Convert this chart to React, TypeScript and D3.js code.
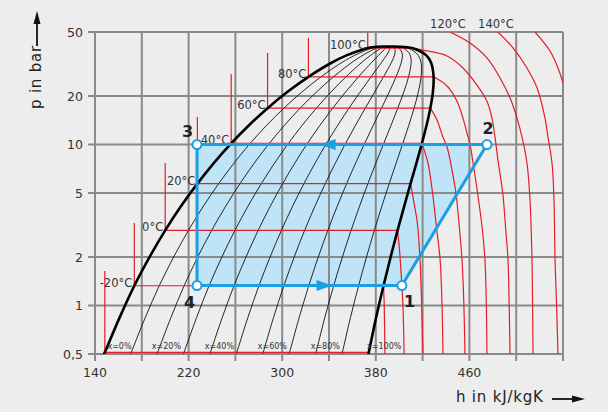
import React from "react";
import * as d3 from "d3";

// saturation table (bar, kJ/kg)
const satT = [-41, -40, -30, -20, -10, 0, 10, 20, 30, 40, 50, 60, 70, 80, 90, 95, 98, 100, 101, 101.06];
const satP = [0.49, 0.512, 0.844, 1.327, 2.006, 2.928, 4.146, 5.717, 7.702, 10.17, 13.18, 16.82, 21.17, 26.33, 32.44, 35.9, 38.1, 39.72, 40.5, 40.59];
const satHf = [147.2, 148.4, 161.1, 173.6, 186.7, 200.0, 213.6, 227.5, 241.7, 256.4, 271.6, 287.5, 304.3, 322.4, 342.9, 355.5, 365.0, 373.1, 381.0, 391.0];
const satHg = [373.4, 374.0, 380.3, 386.6, 392.7, 398.6, 404.3, 409.7, 414.8, 419.4, 423.4, 426.6, 428.8, 429.4, 427.1, 423.0, 417.5, 411.0, 401.0, 391.0];

const qualities = [0, 0.1, 0.2, 0.3, 0.4, 0.5, 0.6, 0.7, 0.8, 0.9, 1];
const qualityLabels = [0, 0.2, 0.4, 0.6, 0.8, 1];

// isotherms with a liquid stem and a two-phase plateau
const isoT = [-40, -20, 0, 20, 40, 60, 80, 100];
const isoLabels = ["", "-20°C", "0°C", "20°C", "40°C", "60°C", "80°C", "100°C"];
const isoStemTop = [1.64, 3.26, 7.68, 14.8, 27.4, 37, 45.9, 49.7];

// superheated branches [h, p]
const sh20m: [number, number][] = [[386.6, 1.327], [387.2, 1], [387.8, 0.5]];
const sh0: [number, number][] = [[398.6, 2.928], [400.3, 2.2], [402.3, 1.33], [403.2, 1], [404.2, 0.5]];
const sh20: [number, number][] = [[409.7, 5.717], [413, 4.2], [415.5, 3.26], [417.8, 1.92], [419.2, 1], [420.3, 0.5]];
const sh40: [number, number][] = [[419.4, 10.17], [424.6, 7.68], [428.5, 5], [432, 3], [435, 1.92], [436.6, 1], [437.4, 0.5]];
const sh60: [number, number][] = [[426.6, 16.82], [432.3, 14.2], [437.4, 11.1], [440.9, 9.66], [445.1, 6.95], [448.5, 5], [451.5, 3], [453.7, 1.92], [455.3, 1], [456.2, 0.5]];
const sh80: [number, number][] = [[429.4, 26.33], [440.9, 23.1], [449.4, 18.6], [454.5, 14.6], [457.9, 11.8], [460.5, 10.07], [463.1, 7.68], [467, 5], [471, 3], [473.3, 1.92], [474.5, 1], [475, 0.5]];
const sh100: [number, number][] = [[411, 39.72], [420.3, 38.6], [440.9, 35.5], [454.5, 29.9], [466.5, 23.4], [475, 18.6], [479.3, 14.6], [481.9, 11.1], [484.4, 8], [488.5, 5], [491, 3], [493, 1.92], [494, 1], [494.7, 0.5]];
const sh120: [number, number][] = [[443.4, 50], [460.5, 42.7], [475, 34.5], [486.2, 25.9], [494.7, 19.5], [500.7, 14.6], [505, 11.1], [509.2, 7.68], [511.8, 4.52], [513.5, 1.92], [514, 1], [514.4, 0.5]];
const sh140: [number, number][] = [[484.4, 50], [497.3, 39.8], [509.2, 29.9], [517.8, 22.5], [524.6, 14.6], [527.2, 11.1], [530.6, 7.68], [532.3, 4.52], [533.2, 1.92], [534.5, 1], [535.7, 0.5]];
const sh160: [number, number][] = [[516.1, 50], [528.9, 38.1], [535.7, 29.9], [540, 24.1], [543.4, 18.9]];
const superheat = [sh20m, sh0, sh20, sh40, sh60, sh80, sh100, sh120, sh140, sh160];
const topLabels = ["120°C", "140°C"];
const topLabelH = [443.4, 484.4];

// refrigeration cycle: points 1..4
const cycleH = [402.3, 475, 227.2, 227.2];
const cycleP = [1.33, 10, 10, 1.33];
const cycleNames = ["1", "2", "3", "4"];
const fillLimitH = 460;
const arrowTopH = 332;
const arrowBottomH = 343;

const yTicks = [0.5, 1, 2, 5, 10, 20, 50];
const yTickLabels = ["0,5", "1", "2", "5", "10", "20", "50"];
const xGrid = [140, 180, 220, 260, 300, 340, 380, 420, 460, 500, 540];
const xTickLabels = [140, 220, 300, 380, 460];

const W = 608;
const H = 412;
const left = 95, right = 563, top = 32, bottom = 354;

const RED = "#e41e26";
const BLUE = "#1a9fe0";
const GRID = "#8a8a8a";
const TXT = "#333";
const FONT = "'DejaVu Sans', sans-serif";

export default function App() {
  const x = d3.scaleLinear().domain([140, 540]).range([left, right]);
  const y = d3.scaleLog().domain([0.5, 50]).range([bottom, top]);

  const smooth = d3
    .line<[number, number]>()
    .x((d) => x(d[0]))
    .y((d) => y(d[1]))
    .curve(d3.curveCatmullRom.alpha(0.5));
  const straight = d3
    .line<[number, number]>()
    .x((d) => x(d[0]))
    .y((d) => y(d[1]));

  const qualityPts = (q: number) =>
    satP.map((p, i) => [satHf[i] + q * (satHg[i] - satHf[i]), p] as [number, number]);

  const liquid = qualityPts(0);
  const vapour = qualityPts(1);
  const dome = liquid.concat(vapour.slice(0, -1).reverse());

  const pts = cycleH.map((h, i) => [x(h), y(cycleP[i])]);
  const poly = pts.map((p) => p.join(",")).join(" ");

  const ty = y(cycleP[1]);
  const tx = x(arrowTopH);
  const by = y(cycleP[0]);
  const bx = x(arrowBottomH);

  return (
    <svg width={W} height={H} style={{ position: "absolute", left: 0, top: 0, background: "#ededed" }}>
      <defs>
        <clipPath id="plot">
          <rect x={left} y={top} width={right - left} height={bottom - top} />
        </clipPath>
        <clipPath id="fillclip">
          <rect x={left} y={top} width={x(fillLimitH) - left} height={bottom - top} />
        </clipPath>
      </defs>
      <rect width={W} height={H} fill="#ededed" />

      {/* shaded cycle area */}
      <polygon points={poly} fill="#bfe4f8" clipPath="url(#fillclip)" />

      {/* grid */}
      {xGrid.map((v) => (
        <line key={"gx" + v} x1={x(v)} x2={x(v)} y1={top} y2={bottom + 7} stroke={GRID} strokeWidth={2} />
      ))}
      {yTicks.map((v) => (
        <line key={"gy" + v} x1={left - 7} x2={right} y1={y(v)} y2={y(v)} stroke={GRID} strokeWidth={2} />
      ))}
      {yTicks.map((v, i) => (
        <text key={"ty" + v} x={83} y={y(v) + 4.5} textAnchor="end" fontFamily={FONT} fontSize={12.5} fill={TXT}>
          {yTickLabels[i]}
        </text>
      ))}
      {xTickLabels.map((v) => (
        <text key={"tx" + v} x={x(v)} y={377} textAnchor="middle" fontFamily={FONT} fontSize={12.5} fill={TXT}>
          {v}
        </text>
      ))}

      <g clipPath="url(#plot)">
        {/* quality lines */}
        {qualities.slice(1, -1).map((q) => (
          <path key={"q" + q} d={smooth(qualityPts(q)) || ""} fill="none" stroke="#111" strokeWidth={0.9} />
        ))}

        {/* isotherms */}
        {isoT.map((T, i) => {
          const k = satT.indexOf(T);
          return (
            <path
              key={"iso" + T}
              d={straight([[satHf[k], isoStemTop[i]], [satHf[k], satP[k]], [satHg[k], satP[k]]]) || ""}
              fill="none"
              stroke={RED}
              strokeWidth={1.2}
            />
          );
        })}
        {superheat.map((s, i) => (
          <path key={"sh" + i} d={smooth(s) || ""} fill="none" stroke={RED} strokeWidth={1.2} />
        ))}

        {/* saturation dome */}
        <path d={smooth(dome) || ""} fill="none" stroke="#000" strokeWidth={2.6} />
      </g>

      {/* isotherm labels */}
      {isoT.map((T, i) => {
        const k = satT.indexOf(T);
        return isoLabels[i] ? (
          <text key={"il" + T} x={x(satHf[k]) - 2} y={y(satP[k]) + 1} textAnchor="end" fontFamily={FONT} fontSize={11.5} fill={TXT}>
            {isoLabels[i]}
          </text>
        ) : null;
      })}
      {topLabels.map((t, i) => (
        <text key={t} x={x(topLabelH[i]) - 2} y={28} textAnchor="middle" fontFamily={FONT} fontSize={11.5} fill={TXT}>
          {t}
        </text>
      ))}

      {/* quality labels */}
      {qualityLabels.map((q) => {
        const h = satHf[0] + q * (satHg[0] - satHf[0]);
        const off = q === 0 ? 4 : q === 1 ? -1 : -4.5;
        return (
          <text key={"ql" + q} x={x(h) + off} y={349} fontFamily={FONT} fontSize={8} fill={TXT}>
            {`x=${Math.round(q * 100)}%`}
          </text>
        );
      })}

      {/* cycle */}
      <polygon points={poly} fill="none" stroke={BLUE} strokeWidth={3} strokeLinejoin="round" />
      <path d={`M${tx},${ty} L${tx + 16},${ty - 5.5} L${tx + 16},${ty + 5.5} Z`} fill={BLUE} />
      <path d={`M${bx},${by} L${bx - 16},${by - 5.5} L${bx - 16},${by + 5.5} Z`} fill={BLUE} />
      {pts.map((p, i) => (
        <circle key={"c" + i} cx={p[0]} cy={p[1]} r={4.5} fill="#fff" stroke={BLUE} strokeWidth={2} />
      ))}
      {pts.map((p, i) => {
        const pos = [
          { dx: 2, dy: 21, a: "start" },
          { dx: 1, dy: -11, a: "middle" },
          { dx: -4, dy: -8, a: "end" },
          { dx: -2, dy: 22, a: "end" },
        ][i];
        return (
          <text key={"n" + i} x={p[0] + pos.dx} y={p[1] + pos.dy} textAnchor={pos.a} fontFamily={FONT} fontWeight="bold" fontSize={16} fill="#222">
            {cycleNames[i]}
          </text>
        );
      })}

      {/* axis titles */}
      <text transform="translate(41,77) rotate(-90)" textAnchor="middle" fontFamily={FONT} fontSize={15} letterSpacing={0.8} fill="#222">
        p in bar
      </text>
      <line x1={37} x2={37} y1={46} y2={22} stroke="#111" strokeWidth={1.8} />
      <path d="M37,11 L33.5,24 L40.5,24 Z" fill="#111" />
      <text x={456} y={402} fontFamily={FONT} fontSize={15} letterSpacing={0.8} fill="#222">
        h in kJ/kgK
      </text>
      <line x1={552} x2={574} y1={399} y2={399} stroke="#111" strokeWidth={1.8} />
      <path d="M585,399 L572,395.5 L572,402.5 Z" fill="#111" />
    </svg>
  );
}
